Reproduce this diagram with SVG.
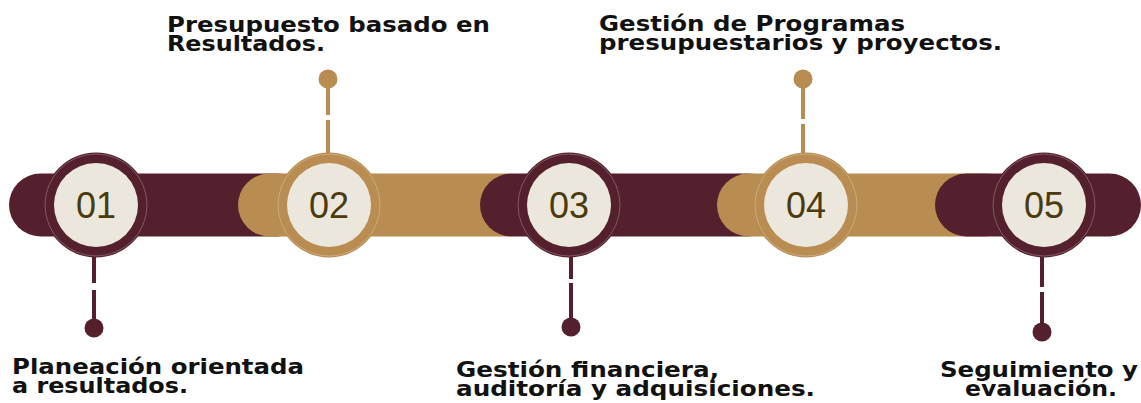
<svg xmlns="http://www.w3.org/2000/svg" width="1141" height="403" viewBox="0 0 1141 403">
  <style>
    .maroon { fill: #55202e; }
    .gold { fill: #b98c51; }
    .cream { fill: #ebe7dc; }
    .edge { fill: none; stroke: #ffffff; stroke-opacity: 0.25; stroke-width: 1; }
    .num { font-family: "Liberation Sans", Arial, sans-serif; font-size: 36px; fill: #4a3a0c; text-anchor: middle; }
    .lbl { font-family: "DejaVu Sans", sans-serif; font-weight: bold; font-size: 21px; fill: #111111; }
    .stemM { stroke: #55202e; stroke-width: 4; fill: none; }
    .stemG { stroke: #b98c51; stroke-width: 4; fill: none; }
  </style>
  <rect width="1141" height="403" fill="#ffffff"/>
  <g id="band">
    <rect class="maroon" x="9" y="173.5" width="300" height="63" rx="31.5"/>
    <rect class="gold" x="238" y="173.5" width="300" height="63" rx="31.5"/>
    <rect class="maroon" x="480" y="173.5" width="300" height="63" rx="31.5"/>
    <rect class="gold" x="717" y="173.5" width="300" height="63" rx="31.5"/>
    <rect class="maroon" x="935" y="173.5" width="206" height="63" rx="31.5"/>
  </g>
  <g id="connectors">
    <line class="stemM" x1="94" y1="255" x2="94" y2="283"/>
    <line class="stemM" x1="94" y1="290" x2="94" y2="320"/>
    <circle class="maroon" cx="94" cy="328" r="9.5"/>
    <line class="stemG" x1="328" y1="79" x2="328" y2="115"/>
    <line class="stemG" x1="328" y1="120" x2="328" y2="155"/>
    <circle class="gold" cx="328" cy="79" r="9.5"/>
    <line class="stemM" x1="571" y1="255" x2="571" y2="279"/>
    <line class="stemM" x1="571" y1="283" x2="571" y2="318"/>
    <circle class="maroon" cx="571" cy="327" r="9.5"/>
    <line class="stemG" x1="803" y1="79" x2="803" y2="119"/>
    <line class="stemG" x1="803" y1="124" x2="803" y2="155"/>
    <circle class="gold" cx="803" cy="79" r="9.5"/>
    <line class="stemM" x1="1042" y1="255" x2="1042" y2="287"/>
    <line class="stemM" x1="1042" y1="292" x2="1042" y2="323"/>
    <circle class="maroon" cx="1042" cy="332" r="9.5"/>
  </g>
  <g id="node1">
    <circle class="maroon" cx="96" cy="205" r="52.5"/>
    <circle class="edge" cx="96" cy="205" r="51"/>
    <circle class="cream" cx="96" cy="205" r="42"/>
    <text class="num" x="96" y="218">01</text>
    <text class="lbl" x="12" y="374" textLength="292" lengthAdjust="spacingAndGlyphs">Planeación orientada</text>
    <text class="lbl" x="12" y="393" textLength="176" lengthAdjust="spacingAndGlyphs">a resultados.</text>
  </g>
  <g id="node2">
    <circle class="gold" cx="329" cy="205" r="52.5"/>
    <circle class="edge" cx="329" cy="205" r="51"/>
    <circle class="cream" cx="329" cy="205" r="42"/>
    <text class="num" x="329" y="218">02</text>
    <text class="lbl" x="167" y="32" textLength="323" lengthAdjust="spacingAndGlyphs">Presupuesto basado en</text>
    <text class="lbl" x="167" y="51" textLength="158" lengthAdjust="spacingAndGlyphs">Resultados.</text>
  </g>
  <g id="node3">
    <circle class="maroon" cx="569" cy="205" r="52.5"/>
    <circle class="edge" cx="569" cy="205" r="51"/>
    <circle class="cream" cx="569" cy="205" r="42"/>
    <text class="num" x="569" y="218">03</text>
    <text class="lbl" x="456" y="377" textLength="263" lengthAdjust="spacingAndGlyphs">Gestión financiera,</text>
    <text class="lbl" x="456" y="396" textLength="359" lengthAdjust="spacingAndGlyphs">auditoría y adquisiciones.</text>
  </g>
  <g id="node4">
    <circle class="gold" cx="806" cy="205" r="52.5"/>
    <circle class="edge" cx="806" cy="205" r="51"/>
    <circle class="cream" cx="806" cy="205" r="42"/>
    <text class="num" x="806" y="218">04</text>
    <text class="lbl" x="599" y="31" textLength="306" lengthAdjust="spacingAndGlyphs">Gestión de Programas</text>
    <text class="lbl" x="599" y="50" textLength="403" lengthAdjust="spacingAndGlyphs">presupuestarios y proyectos.</text>
  </g>
  <g id="node5">
    <circle class="maroon" cx="1044" cy="205" r="52.5"/>
    <circle class="edge" cx="1044" cy="205" r="51"/>
    <circle class="cream" cx="1044" cy="205" r="42"/>
    <text class="num" x="1044" y="218">05</text>
    <text class="lbl" x="940" y="377" textLength="198" lengthAdjust="spacingAndGlyphs">Seguimiento y</text>
    <text class="lbl" x="965" y="396" textLength="152" lengthAdjust="spacingAndGlyphs">evaluación.</text>
  </g>
</svg>
